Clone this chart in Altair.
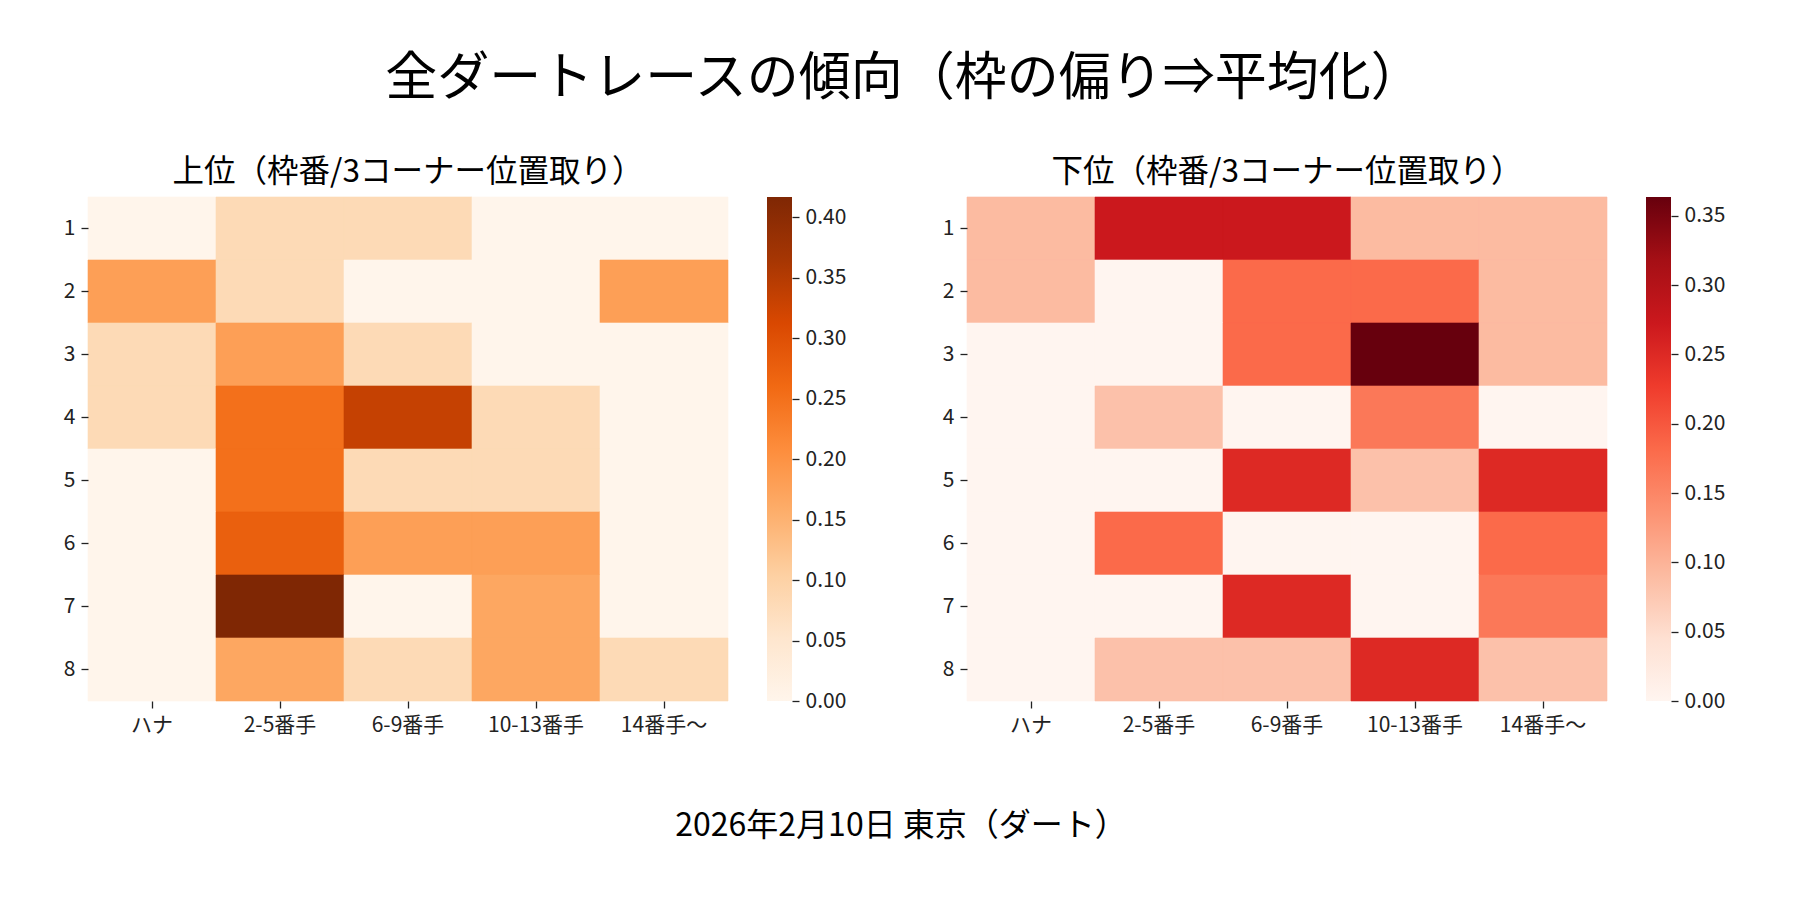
import altair as alt
import pandas as pd

MAIN_TITLE = "全ダートレースの傾向（枠の偏り⇒平均化）"
TOP_TITLE = "上位（枠番/3コーナー位置取り）"
BOTTOM_TITLE = "下位（枠番/3コーナー位置取り）"
FOOTER = "2026年2月10日 東京（ダート）"

ROWS = ["1", "2", "3", "4", "5", "6", "7", "8"]
COLS = ["ハナ", "2-5番手", "6-9番手", "10-13番手", "14番手〜"]

TOP_VALUES = [
    [0.000, 0.080, 0.080, 0.000, 0.000],
    [0.180, 0.080, 0.000, 0.000, 0.180],
    [0.080, 0.180, 0.080, 0.000, 0.000],
    [0.080, 0.250, 0.333, 0.080, 0.000],
    [0.000, 0.250, 0.080, 0.080, 0.000],
    [0.000, 0.275, 0.180, 0.180, 0.000],
    [0.000, 0.4167, 0.000, 0.167, 0.000],
    [0.000, 0.167, 0.080, 0.167, 0.080],
]

BOTTOM_VALUES = [
    [0.091, 0.273, 0.273, 0.091, 0.091],
    [0.091, 0.000, 0.182, 0.182, 0.091],
    [0.000, 0.000, 0.182, 0.3636, 0.091],
    [0.000, 0.083, 0.000, 0.166, 0.000],
    [0.000, 0.000, 0.250, 0.083, 0.250],
    [0.000, 0.182, 0.000, 0.000, 0.182],
    [0.000, 0.000, 0.250, 0.000, 0.166],
    [0.000, 0.083, 0.083, 0.250, 0.083],
]

TOP_TICKS = [0.00, 0.05, 0.10, 0.15, 0.20, 0.25, 0.30, 0.35, 0.40]
BOTTOM_TICKS = [0.00, 0.05, 0.10, 0.15, 0.20, 0.25, 0.30, 0.35]

ORANGES = ["#fff5eb", "#fee6ce", "#fdd0a2", "#fdae6b", "#fd8d3c",
           "#f16913", "#d94801", "#a63603", "#7f2704"]
REDS = ["#fff5f0", "#fee0d2", "#fcbba1", "#fc9272", "#fb6a4a",
        "#ef3b2c", "#cb181d", "#a50f15", "#67000d"]

FONT = "Noto Sans CJK JP"
INK = "#222222"
TICK_FS = 21


def to_long(values):
    recs = []
    for r, row in zip(ROWS, values):
        for c, v in zip(COLS, row):
            recs.append({"waku": r, "pos": c, "value": v})
    return pd.DataFrame(recs)


def heatmap(df, colors, title):
    scale = alt.Scale(range=colors, interpolate="rgb", zero=True, nice=False)
    return alt.Chart(df).mark_rect(strokeWidth=0.6).encode(
        x=alt.X("pos:N", sort=COLS, title=None,
                axis=alt.Axis(labelAngle=0, domain=False, tickSize=7, tickWidth=1.3,
                              tickColor=INK, labelColor=INK, labelFontSize=TICK_FS,
                              labelPadding=6, labelFont=FONT)),
        y=alt.Y("waku:N", sort=ROWS, title=None,
                axis=alt.Axis(labelAngle=0, domain=False, tickSize=7, tickWidth=1.3,
                              tickColor=INK, labelColor=INK, labelFontSize=TICK_FS,
                              labelPadding=6, labelFont=FONT)),
        color=alt.Color("value:Q", scale=scale, legend=None),
        stroke=alt.Stroke("value:Q", scale=scale, legend=None),
    ).properties(
        width=640, height=504,
        title=alt.TitleParams(title, fontSize=31.5, font=FONT, fontWeight="normal",
                              color="black", anchor="middle", offset=8),
    )


def colorbar(df, colors, ticks):
    stops = [alt.GradientStop(color=c, offset=i / (len(colors) - 1))
             for i, c in enumerate(colors)]
    return alt.Chart(df).transform_aggregate(
        vmin="min(value)", vmax="max(value)"
    ).mark_rect(
        color=alt.Gradient(gradient="linear", stops=stops, x1=0, x2=0, y1=1, y2=0)
    ).encode(
        y=alt.Y("vmin:Q", scale=alt.Scale(zero=True, nice=False),
                axis=alt.Axis(orient="right", values=ticks, format=".2f", domain=False,
                              grid=False, title=None, tickSize=7, tickWidth=1.3,
                              tickColor=INK, labelColor=INK, labelFontSize=TICK_FS,
                              labelPadding=6, labelFont=FONT, labelFlush=False,
                              labelOverlap=False)),
        y2="vmax:Q",
        x=alt.value(0),
        x2=alt.value(25),
    ).properties(width=25, height=504)


top_df = to_long(TOP_VALUES)
bot_df = to_long(BOTTOM_VALUES)

left = alt.hconcat(heatmap(top_df, ORANGES, TOP_TITLE), colorbar(top_df, ORANGES, TOP_TICKS),
                   spacing=38)
right = alt.hconcat(heatmap(bot_df, REDS, BOTTOM_TITLE), colorbar(bot_df, REDS, BOTTOM_TICKS),
                    spacing=38)

panels = alt.hconcat(
    left, right, spacing=96,
    title=alt.TitleParams(FOOTER, orient="bottom", anchor="middle", fontSize=32, font=FONT,
                          fontWeight="normal", color="black", offset=76, dx=7),
).resolve_scale(color="independent", stroke="independent", y="independent")

chart = alt.vconcat(
    panels,
    title=alt.TitleParams(MAIN_TITLE, fontSize=52, font=FONT, fontWeight="normal",
                          color="black", anchor="middle", offset=51, dx=10),
).properties(
    padding={"left": 55, "top": 45, "right": 10, "bottom": 10},
    background="white",
).configure_view(stroke=None).configure_axis(labelFont=FONT)

chart.save("out.html", embed_options={"renderer": "svg", "actions": False})
